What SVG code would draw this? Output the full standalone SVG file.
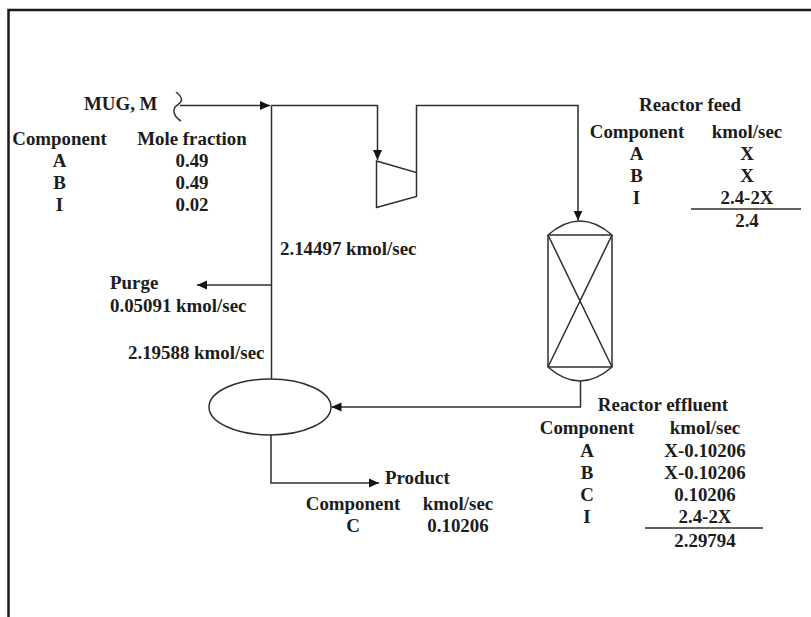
<svg xmlns="http://www.w3.org/2000/svg" width="811" height="617" viewBox="0 0 811 617">
<style>
text{font-family:"Liberation Serif","Times New Roman",serif;font-weight:bold;font-size:18.9px;fill:#1c1c1c}
.m{text-anchor:middle}
.l{fill:none;stroke:#2e2e2e;stroke-width:1.5}
.eq{fill:#fff;stroke:#2e2e2e;stroke-width:1.5}
</style>
<defs>
<marker id="a" markerUnits="userSpaceOnUse" markerWidth="10" markerHeight="10" refX="10" refY="5" orient="auto"><path d="M0 0.500L10 5L0 9.500Z" fill="#111"/></marker>
</defs>
<rect width="811" height="617" fill="#fff"/>
<path id="frame" d="M8.500 617V10H811" fill="none" stroke="#1a1a1a" stroke-width="2.5"/>
<g id="connectors">
<path class="l" d="M180 105.500H270" marker-end="url(#a)"/>
<path class="l" d="M271.500 379V105.500H377.500V160" marker-end="url(#a)"/>
<path class="l" d="M416.500 172V105.500H578V220.500" marker-end="url(#a)"/>
<path class="l" d="M271.500 285H197" marker-end="url(#a)"/>
<path class="l" d="M580.500 381V407H331.500" marker-end="url(#a)"/>
<path class="l" d="M271 435V483H379" marker-end="url(#a)"/>
<path class="l" d="M691 209H801"/>
<path class="l" d="M645 528H763"/>
</g>
<g id="mug-break"><path class="l" d="M176 92C186 100 180 103 176 106C172 110 174 117 181 121"/></g>
<g id="compressor"><path class="eq" d="M376.500 161L416.500 172.500V196.500L376.500 207.500Z"/></g>
<g id="reactor">
<path class="eq" d="M548 235Q580 207 612 235V367Q580 395 548 367Z"/>
<path class="l" d="M548 235H612M548 367H612M548 235L612 367M612 235L548 367"/>
</g>
<g id="separator"><ellipse class="eq" cx="270" cy="407" rx="61" ry="28"/></g>
<g id="labels-mug">
<text x="84" y="110">MUG, M</text>
<text class="m" x="59.500" y="145">Component</text>
<text class="m" x="192" y="145">Mole fraction</text>
<text class="m" x="59.500" y="167">A</text><text class="m" x="192" y="167">0.49</text>
<text class="m" x="59.500" y="189">B</text><text class="m" x="192" y="189">0.49</text>
<text class="m" x="59.500" y="211">I</text><text class="m" x="192" y="211">0.02</text>
</g>
<g id="labels-flow">
<text x="280" y="255">2.14497 kmol/sec</text>
<text x="110" y="289">Purge</text>
<text x="110" y="312">0.05091 kmol/sec</text>
<text x="128" y="359">2.19588 kmol/sec</text>
</g>
<g id="labels-feed">
<text class="m" x="690" y="111">Reactor feed</text>
<text class="m" x="637" y="138">Component</text><text class="m" x="747" y="138">kmol/sec</text>
<text class="m" x="636.500" y="160">A</text><text class="m" x="747" y="160">X</text>
<text class="m" x="636.500" y="182">B</text><text class="m" x="747" y="182">X</text>
<text class="m" x="636.500" y="204">I</text><text class="m" x="747" y="204">2.4-2X</text>
<text class="m" x="747" y="227">2.4</text>
</g>
<g id="labels-effluent">
<text class="m" x="663" y="411">Reactor effluent</text>
<text class="m" x="587" y="434">Component</text><text class="m" x="705" y="434">kmol/sec</text>
<text class="m" x="587" y="457">A</text><text class="m" x="705" y="457">X-0.10206</text>
<text class="m" x="587" y="479">B</text><text class="m" x="705" y="479">X-0.10206</text>
<text class="m" x="587" y="501">C</text><text class="m" x="705" y="501">0.10206</text>
<text class="m" x="587" y="523">I</text><text class="m" x="705" y="523">2.4-2X</text>
<text class="m" x="705" y="547">2.29794</text>
</g>
<g id="labels-product">
<text x="385" y="484">Product</text>
<text class="m" x="353" y="510">Component</text><text class="m" x="458" y="510">kmol/sec</text>
<text class="m" x="353" y="532">C</text><text class="m" x="458" y="532">0.10206</text>
</g>
</svg>
